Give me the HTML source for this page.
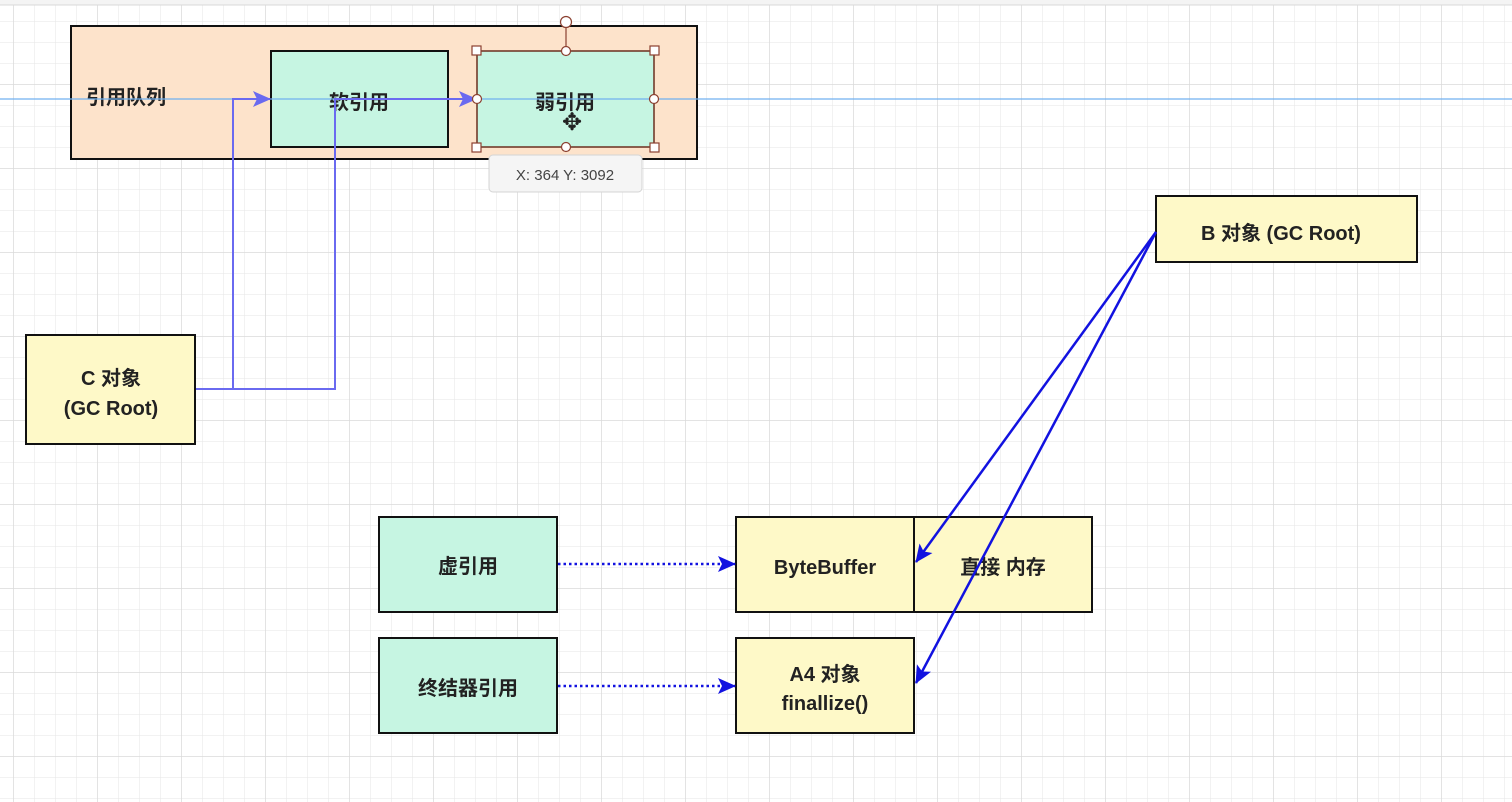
<!DOCTYPE html>
<html><head><meta charset="utf-8"><style>
html,body{margin:0;padding:0;background:#fff;width:1512px;height:802px;overflow:hidden}
svg text{font-family:"Liberation Sans","Noto Sans CJK SC",sans-serif;font-weight:bold;fill:#222}
</style></head><body>
<svg width="1512" height="802" xmlns="http://www.w3.org/2000/svg">
<defs>
<pattern id="g" x="13" y="0" width="21" height="21" patternUnits="userSpaceOnUse">
<path d="M0 0V21M0 0H21" stroke="#e6e6e6" stroke-width="1" fill="none"/>
</pattern>
<pattern id="G" x="13" y="0" width="84" height="84" patternUnits="userSpaceOnUse">
<path d="M0 0V84M0 0H84" stroke="#dadada" stroke-width="1.5" fill="none"/>
</pattern>
<marker id="a1" markerWidth="18" markerHeight="16" refX="17" refY="8" orient="auto" markerUnits="userSpaceOnUse"><path d="M0 0L18 8L0 16L4 8z" fill="#6a6af0"/></marker>
<marker id="a2" markerWidth="18" markerHeight="16" refX="17" refY="8" orient="auto" markerUnits="userSpaceOnUse"><path d="M0 0L18 8L0 16L4 8z" fill="#1212e0"/></marker>
</defs>
<rect width="1512" height="802" fill="url(#g)"/>
<rect width="1512" height="802" fill="url(#G)"/>
<rect x="0" y="0" width="1512" height="5" fill="#f4f4f4"/>
<line x1="0" y1="5" x2="1512" y2="5" stroke="#d8d8d8"/>

<rect x="71" y="26" width="626" height="133" fill="#fde3cb" stroke="#111" stroke-width="2"/>
<text x="86" y="104" font-size="20">引用队列</text>
<rect x="271" y="51" width="177" height="96" fill="#c6f5e2" stroke="#111" stroke-width="2"/>
<text x="359" y="109" font-size="20" text-anchor="middle">软引用</text>
<rect x="477" y="51" width="177" height="96" fill="#c6f5e2" stroke="#6b2f20" stroke-width="1.5"/>
<text x="565" y="109" font-size="20" text-anchor="middle">弱引用</text>
<line x1="0" y1="99" x2="1512" y2="99" stroke="#70b0f0" stroke-width="1.2"/>

<polyline points="195,389 335,389 335,99 476,99" fill="none" stroke="#6a6af0" stroke-width="2" marker-end="url(#a1)"/>
<polyline points="233,389 233,99 270,99" fill="none" stroke="#6a6af0" stroke-width="2" marker-end="url(#a1)"/>

<line x1="566" y1="22" x2="566" y2="51" stroke="#8b4030" stroke-width="1.2"/>
<g fill="#fff" stroke="#8b4030" stroke-width="1.2">
<circle cx="566" cy="22" r="5.5"/>
<circle cx="566" cy="51" r="4.5"/><circle cx="566" cy="147" r="4.5"/>
<circle cx="477" cy="99" r="4.5"/><circle cx="654" cy="99" r="4.5"/>
<rect x="472" y="46" width="9" height="9"/><rect x="650" y="46" width="9" height="9"/>
<rect x="472" y="143" width="9" height="9"/><rect x="650" y="143" width="9" height="9"/>
</g>
<text x="572" y="130" font-size="24" text-anchor="middle" style="font-weight:normal">✥</text>
<rect x="489" y="155" width="153" height="37" rx="4" fill="#f5f5f5" stroke="#d4d4d4"/>
<text x="565" y="180" font-size="15" text-anchor="middle" style="font-weight:normal;fill:#444">X: 364  Y: 3092</text>

<rect x="26" y="335" width="169" height="109" fill="#fef9c8" stroke="#111" stroke-width="2"/>
<text x="111" y="385" font-size="20" text-anchor="middle">C 对象</text>
<text x="111" y="415" font-size="20" text-anchor="middle">(GC Root)</text>

<rect x="1156" y="196" width="261" height="66" fill="#fef9c8" stroke="#111" stroke-width="2"/>
<text x="1281" y="240" font-size="20" text-anchor="middle">B 对象  (GC Root)</text>

<rect x="379" y="517" width="178" height="95" fill="#c6f5e2" stroke="#111" stroke-width="2"/>
<text x="468" y="573" font-size="20" text-anchor="middle">虚引用</text>
<rect x="736" y="517" width="178" height="95" fill="#fef9c8" stroke="#111" stroke-width="2"/>
<text x="825" y="574" font-size="20" text-anchor="middle">ByteBuffer</text>
<rect x="914" y="517" width="178" height="95" fill="#fef9c8" stroke="#111" stroke-width="2"/>
<text x="1003" y="574" font-size="20" text-anchor="middle">直接 内存</text>

<rect x="379" y="638" width="178" height="95" fill="#c6f5e2" stroke="#111" stroke-width="2"/>
<text x="468" y="695" font-size="20" text-anchor="middle">终结器引用</text>
<rect x="736" y="638" width="178" height="95" fill="#fef9c8" stroke="#111" stroke-width="2"/>
<text x="825" y="681" font-size="20" text-anchor="middle">A4 对象</text>
<text x="825" y="710" font-size="20" text-anchor="middle">finallize()</text>

<line x1="558" y1="564" x2="735" y2="564" stroke="#1212e0" stroke-width="2.5" stroke-dasharray="2.5,3" marker-end="url(#a2)"/>
<line x1="558" y1="686" x2="735" y2="686" stroke="#1212e0" stroke-width="2.5" stroke-dasharray="2.5,3" marker-end="url(#a2)"/>

<line x1="1156" y1="232" x2="916" y2="562" stroke="#1212e0" stroke-width="2.5" marker-end="url(#a2)"/>
<line x1="1156" y1="232" x2="916" y2="683" stroke="#1212e0" stroke-width="2.5" marker-end="url(#a2)"/>
</svg>
</body></html>
